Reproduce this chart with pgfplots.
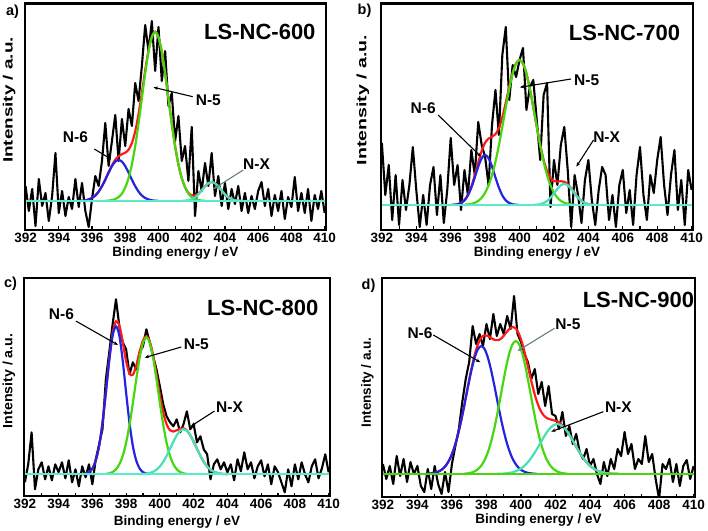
\documentclass[border=0pt]{standalone}
\usepackage{graphicx}
\usepackage{pgfplots}
\pgfplotsset{compat=1.18}
\usepackage{fontspec}
\setmainfont{Liberation Sans}
\usetikzlibrary{arrows.meta}
\definecolor{fitred}{RGB}{255,25,25}
\definecolor{fitblue}{RGB}{35,35,225}
\definecolor{fitgreen}{RGB}{70,215,15}
\definecolor{fitcyan}{RGB}{70,225,185}
\definecolor{basecyan}{RGB}{90,235,205}
\tikzset{
  ann/.style={font=\fontsize{15.5}{17}\selectfont\bfseries},
  ttl/.style={font=\fontsize{22}{24}\selectfont\bfseries},
  arr/.style={line width=1.1pt, -{Stealth[length=4.5pt,width=3.5pt]}},
  frame/.style={line width=2.3pt, line join=miter},
}
\pgfplotsset{
  panel/.style={
    scale only axis, anchor=south west,
    xmin=391.95, xmax=410.08,
    xtick={392,394,...,410}, minor xtick={393,395,...,409},
    ytick=\empty, xtick pos=left, tick align=inside,
    major tick length=3.5pt, minor tick length=3.5pt,
    every tick/.style={black, line width=1.1pt},
    /pgf/number format/assume math mode=true,
    /pgf/number format/1000 sep={},
    ticklabel style={font=\fontsize{13.5}{15}\selectfont\bfseries},
    xlabel={Binding energy / eV},
    label style={font=\fontsize{13.5}{15}\selectfont\bfseries},
    xlabel style={at={(axis description cs:0.5,0)}, anchor=center},
    ylabel style={anchor=center},
    clip=true,
  },
  dat/.style={black, line width=2.1pt, line join=round},
  fR/.style={fitred, line width=2.2pt, smooth},
  fB/.style={fitblue, line width=2.2pt, smooth},
  fG/.style={fitgreen, line width=2.2pt, smooth},
  fC/.style={fitcyan, line width=2.2pt, smooth},
  bl/.style={basecyan, line width=2.2pt},
}
\begin{document}
\begin{tikzpicture}
\useasboundingbox (0,0) rectangle (708pt,530pt);
% ---------------- a ----------------
\begin{axis}[panel, name=A, at={(24.7pt,300pt)}, width=301.3pt, height=226.5pt,
  ymin=-29, ymax=197.5,
  ylabel={\scalebox{1.4}[1]{Intensity / a.u.}},
  ylabel style={at={(axis description cs:-0.052,0.574)}},
  xlabel style={yshift=-23pt}]
\addplot[dat] coordinates {
(392.0,15)(392.2,-10)(392.4,12)(392.6,-25)(392.8,22)(393.0,-5)(393.2,8)(393.4,-20)(393.6,5)(393.8,48)
(394.0,-12)(394.2,10)(394.4,-15)(394.6,4)(394.8,-8)(395.0,22)(395.2,-6)(395.4,18)(395.6,-10)(395.8,-26)
(396.0,2)(396.2,25)(396.4,15)(396.6,40)(396.8,78)(397.0,35)(397.2,60)(397.4,86)(397.6,40)(397.8,82)
(398.0,55)(398.2,92)(398.4,75)(398.6,118)(398.8,100)(399.0,135)(399.2,176)(399.4,150)(399.6,180)(399.8,130)
(400.0,174)(400.2,120)(400.4,150)(400.6,95)(400.8,108)(401.0,60)(401.2,85)(401.4,40)(401.6,55)(401.8,20)
(402.0,74)(402.2,-15)(402.4,30)(402.6,10)(402.8,38)(403.0,15)(403.2,48)(403.4,5)(403.6,25)(403.8,-5)
(404.0,18)(404.2,-8)(404.4,12)(404.6,-3)(404.8,15)(405.0,-10)(405.2,8)(405.4,-12)(405.6,5)(405.8,-8)
(406.0,10)(406.2,19)(406.4,-5)(406.6,12)(406.8,-15)(407.0,6)(407.2,-10)(407.4,10)(407.6,-18)(407.8,4)
(408.0,-6)(408.2,24)(408.4,-10)(408.6,8)(408.8,-12)(409.0,12)(409.2,-20)(409.4,6)(409.6,-8)(409.8,10)(410.0,-12)};
\addplot[fR] coordinates {
(395.2,0.1)(395.4,0.3)(395.6,0.7)(395.8,1.5)(396.0,3.0)(396.2,5.5)(396.4,9.4)(396.6,14.9)(396.8,21.5)(397.0,28.8)
(397.2,35.7)(397.4,41.3)(397.6,44.9)(397.8,46.8)(398.0,48.3)(398.2,51.3)(398.4,57.9)(398.6,69.7)(398.8,86.8)(399.0,108.0)
(399.2,130.6)(399.4,150.6)(399.6,164.5)(399.8,169.3)(400.0,163.9)(400.2,149.1)(400.4,127.6)(400.6,102.5)(400.8,77.4)(401.0,54.9)
(401.2,36.6)(401.4,23.0)(401.6,13.8)(401.8,8.1)(402.0,5.7)(402.2,5.5)(402.4,7.5)(402.6,10.9)(402.8,14.8)(403.0,17.9)
(403.2,19.0)(403.4,17.8)(403.6,14.6)(403.8,10.5)(404.0,6.6)(404.2,3.6)(404.4,1.8)(404.6,0.7)(404.8,0.3)(405.0,0.1)};
\addplot[fB] coordinates {
(395.2,0.1)(395.4,0.3)(395.6,0.7)(395.8,1.5)(396.0,3.0)(396.2,5.5)(396.4,9.4)(396.6,14.8)(396.8,21.3)(397.0,28.4)
(397.2,34.8)(397.4,39.4)(397.6,41)(397.8,39.4)(398.0,34.8)(398.2,28.4)(398.4,21.3)(398.6,14.8)(398.8,9.4)(399.0,5.5)
(399.2,3.0)(399.4,1.5)(399.6,0.7)(399.8,0.3)(400.0,0.1)};
\addplot[fG] coordinates {
(396.8,0.2)(397.0,0.4)(397.2,0.9)(397.4,1.9)(397.6,3.9)(397.8,7.4)(398.0,13.5)(398.2,22.9)(398.4,36.6)(398.6,54.9)
(398.8,77.4)(399.0,102.5)(399.2,127.6)(399.4,149.1)(399.6,163.8)(399.8,169)(400.0,163.8)(400.2,149.1)(400.4,127.6)(400.6,102.5)
(400.8,77.4)(401.0,54.9)(401.2,36.6)(401.4,22.9)(401.6,13.5)(401.8,7.4)(402.0,3.9)(402.2,1.9)(402.4,0.9)(402.6,0.4)(402.8,0.2)};
\addplot[fC] coordinates {
(401.4,0.1)(401.6,0.3)(401.8,0.7)(402.0,1.8)(402.2,3.6)(402.4,6.6)(402.6,10.5)(402.8,14.6)(403.0,17.8)(403.2,19)
(403.4,17.8)(403.6,14.6)(403.8,10.5)(404.0,6.6)(404.2,3.6)(404.4,1.8)(404.6,0.7)(404.8,0.3)(405.0,0.1)};
\addplot[bl] coordinates {(391.95,0)(410.08,0)};
\node[ttl] at (axis cs:406.1,169) {LS-NC-600};
\node[ann] at (axis cs:395.0,64.3) {N-6};
\draw[arr] (axis cs:396.14,52) -- (axis cs:397.16,41.7);
\node[ann] at (axis cs:403.0,100.3) {N-5};
\draw[arr] (axis cs:402.06,104.3) -- (axis cs:399.7,113.7);
\node[ann] at (axis cs:405.9,37) {N-X};
\draw[arr, gray!80!teal] (axis cs:405.1,31) -- (axis cs:403.3,12);
\end{axis}
\draw[frame] (A.south west) rectangle (A.north east);
% ---------------- b ----------------
\begin{axis}[panel, name=B, at={(381pt,300pt)}, width=312pt, height=226.5pt,
  ymin=-25, ymax=201.5,
  ylabel={\scalebox{1.45}[1]{Intensity / a.u.}},
  ylabel style={at={(axis description cs:-0.058,0.574)}},
  xlabel style={yshift=-23pt}]
\addplot[dat] coordinates {
(392.0,62)(392.2,10)(392.4,40)(392.6,-15)(392.8,30)(393.0,-20)(393.2,25)(393.4,-5)(393.6,20)(393.8,58)
(394.0,15)(394.2,-22)(394.4,10)(394.6,-20)(394.8,20)(395.0,38)(395.2,-10)(395.4,30)(395.6,-18)(395.8,15)
(396.0,67)(396.2,20)(396.4,40)(396.6,-5)(396.8,35)(397.0,10)(397.2,55)(397.4,30)(397.6,83)(397.8,60)
(398.0,48)(398.2,20)(398.4,80)(398.6,115)(398.8,70)(399.0,150)(399.2,178)(399.4,105)(399.6,140)(399.8,128)
(400.0,145)(400.2,157)(400.4,95)(400.6,118)(400.8,125)(401.0,85)(401.2,45)(401.4,110)(401.6,122)(401.8,-2)
(402.0,45)(402.2,20)(402.4,60)(402.6,78)(402.8,35)(403.0,-22)(403.2,30)(403.4,10)(403.6,-18)(403.8,25)
(404.0,45)(404.2,5)(404.4,-20)(404.6,15)(404.8,38)(405.0,30)(405.2,-15)(405.4,10)(405.6,-22)(405.8,20)
(406.0,35)(406.2,-8)(406.4,15)(406.6,-20)(406.8,30)(407.0,58)(407.2,10)(407.4,-15)(407.6,30)(407.8,12)
(408.0,45)(408.2,68)(408.4,20)(408.6,-10)(408.8,30)(409.0,55)(409.2,-5)(409.4,25)(409.6,-20)(409.8,35)(410.0,15)};
\addplot[fR] coordinates {
(396.0,0.1)(396.2,0.2)(396.4,0.7)(396.6,2.1)(396.8,4.9)(397.0,10.2)(397.2,18.5)(397.4,29.8)(397.6,42.5)(397.8,54.1)
(398.0,62.3)(398.2,66.4)(398.4,68.3)(398.6,70.8)(398.8,77.0)(399.0,87.8)(399.2,102.3)(399.4,118.1)(399.6,132.1)(399.8,141.7)
(400.0,145.1)(400.2,141.5)(400.4,131.4)(400.6,116.1)(400.8,97.8)(401.0,78.5)(401.2,60.4)(401.4,45.1)(401.6,33.9)(401.8,26.9)
(402.0,23.9)(402.2,23.4)(402.4,23.8)(402.6,23.2)(402.8,20.8)(403.0,16.7)(403.2,11.9)(403.4,7.4)(403.6,4.0)(403.8,1.9)
(404.0,0.8)(404.2,0.3)(404.4,0.1)};
\addplot[fB] coordinates {
(396.0,0.1)(396.2,0.2)(396.4,0.7)(396.6,2.0)(396.8,4.6)(397.0,9.6)(397.2,17.4)(397.4,27.6)(397.6,38.4)(397.8,46.8)
(398.0,50)(398.2,46.8)(398.4,38.4)(398.6,27.6)(398.8,17.4)(399.0,9.6)(399.2,4.6)(399.4,2.0)(399.6,0.7)(399.8,0.2)(400.0,0.1)};
\addplot[fG] coordinates {
(396.8,0.3)(397.0,0.6)(397.2,1.1)(397.4,2.2)(397.6,4.1)(397.8,7.3)(398.0,12.3)(398.2,19.6)(398.4,29.9)(398.6,43.2)
(398.8,59.6)(399.0,78.2)(399.2,97.7)(399.4,116.1)(399.6,131.4)(399.8,141.5)(400.0,145)(400.2,141.5)(400.4,131.4)(400.6,116.1)
(400.8,97.7)(401.0,78.2)(401.2,59.6)(401.4,43.2)(401.6,29.9)(401.8,19.6)(402.0,12.3)(402.2,7.3)(402.4,4.1)(402.6,2.2)
(402.8,1.1)(403.0,0.6)(403.2,0.3)};
\addplot[fC] coordinates {
(400.8,0.1)(401.0,0.3)(401.2,0.8)(401.4,1.9)(401.6,4.0)(401.8,7.3)(402.0,11.6)(402.2,16.1)(402.4,19.7)(402.6,21)
(402.8,19.7)(403.0,16.1)(403.2,11.6)(403.4,7.3)(403.6,4.0)(403.8,1.9)(404.0,0.8)(404.2,0.3)(404.4,0.1)};
\addplot[bl] coordinates {(391.95,0)(410.08,0)};
\node[ttl] at (axis cs:406.1,171.7) {LS-NC-700};
\node[ann] at (axis cs:394.4,96.7) {N-6};
\draw[arr] (axis cs:395.27,90) -- (axis cs:397.76,48.3);
\node[ann] at (axis cs:403.9,125) {N-5};
\draw[arr] (axis cs:402.99,126) -- (axis cs:400.02,117.7);
\node[ann] at (axis cs:405.06,68.3) {N-X};
\draw[arr] (axis cs:404.3,65) -- (axis cs:403.3,38.3);
\end{axis}
\draw[frame] (B.south west) rectangle (B.north east);
% ---------------- c ----------------
\begin{axis}[panel, name=C, at={(24pt,34pt)}, width=306pt, height=218pt,
  ymin=-21.7, ymax=196.3,
  ylabel={\scalebox{1.05}[1]{Intensity / a.u.}},
  ylabel style={at={(axis description cs:-0.049,0.528)}},
  xlabel style={yshift=-26pt}]
\addplot[dat] coordinates {
(392.0,-8)(392.2,10)(392.4,42)(392.6,-15)(392.8,5)(393.0,12)(393.2,-5)(393.4,8)(393.6,-6)(393.8,10)
(394.0,2)(394.2,12)(394.4,-4)(394.6,14)(394.8,-8)(395.0,5)(395.2,-12)(395.4,8)(395.6,-3)(395.8,10)
(396.0,-10)(396.2,15)(396.4,30)(396.6,45)(396.8,95)(397.0,122)(397.2,150)(397.4,175)(397.6,148)(397.8,132)
(398.0,125)(398.2,100)(398.4,112)(398.6,105)(398.8,122)(399.0,128)(399.2,145)(399.4,132)(399.6,118)(399.8,105)
(400.0,88)(400.2,70)(400.4,58)(400.6,52)(400.8,48)(401.0,55)(401.2,42)(401.4,50)(401.6,63)(401.8,45)
(402.0,50)(402.2,32)(402.4,38)(402.6,25)(402.8,20)(403.0,-5)(403.2,10)(403.4,15)(403.6,5)(403.8,12)
(404.0,2)(404.2,10)(404.4,-6)(404.6,15)(404.8,3)(405.0,22)(405.2,5)(405.4,12)(405.6,-4)(405.8,8)
(406.0,14)(406.2,-2)(406.4,10)(406.6,-10)(406.8,8)(407.0,2)(407.2,-8)(407.4,-18)(407.6,5)(407.8,-12)
(408.0,10)(408.2,-5)(408.4,12)(408.6,0)(408.8,-8)(409.0,8)(409.2,15)(409.4,-4)(409.6,6)(409.8,20)(410.0,2)};
\addplot[fR] coordinates {
(395.4,0.2)(395.6,0.7)(395.8,2.1)(396.0,5.8)(396.2,13.7)(396.4,28.3)(396.6,51.5)(396.8,82.0)(397.0,114.6)(397.2,140.8)
(397.4,153.0)(397.6,148.6)(397.8,132.1)(398.0,113.1)(398.2,100.8)(398.4,99.6)(398.6,108.6)(398.8,122.3)(399.0,133.9)(399.2,138.3)
(399.4,133.0)(399.6,118.9)(399.8,99.5)(400.0,79.2)(400.2,61.9)(400.4,50.0)(400.6,44.0)(400.8,42.8)(401.0,44.0)(401.2,45.7)
(401.4,46.0)(401.6,43.8)(401.8,39.1)(402.0,32.7)(402.2,25.5)(402.4,18.5)(402.6,12.5)(402.8,7.9)(403.0,4.6)(403.2,2.5)
(403.4,1.3)(403.6,0.6)(403.8,0.3)(404.0,0.1)};
\addplot[fB] coordinates {
(395.4,0.2)(395.6,0.7)(395.8,2.1)(396.0,5.8)(396.2,13.7)(396.4,28.3)(396.6,51.4)(396.8,81.6)(397.0,113.6)(397.2,138.5)
(397.4,148)(397.6,138.5)(397.8,113.6)(398.0,81.6)(398.2,51.4)(398.4,28.3)(398.6,13.7)(398.8,5.8)(399.0,2.1)(399.2,0.7)(399.4,0.2)};
\addplot[fG] coordinates {
(396.8,0.4)(397.0,1.0)(397.2,2.3)(397.4,5.0)(397.6,10.1)(397.8,18.5)(398.0,31.5)(398.2,49.4)(398.4,71.3)(398.6,94.9)
(398.8,116.4)(399.0,131.5)(399.2,137)(399.4,131.5)(399.6,116.4)(399.8,94.9)(400.0,71.3)(400.2,49.4)(400.4,31.5)(400.6,18.5)
(400.8,10.1)(401.0,5.0)(401.2,2.3)(401.4,1.0)(401.6,0.4)};
\addplot[fC] coordinates {
(398.8,0.1)(399.0,0.3)(399.2,0.6)(399.4,1.3)(399.6,2.5)(399.8,4.6)(400.0,7.9)(400.2,12.5)(400.4,18.5)(400.6,25.5)
(400.8,32.7)(401.0,39.0)(401.2,43.4)(401.4,45)(401.6,43.4)(401.8,39.0)(402.0,32.7)(402.2,25.5)(402.4,18.5)(402.6,12.5)
(402.8,7.9)(403.0,4.6)(403.2,2.5)(403.4,1.3)(403.6,0.6)(403.8,0.3)(404.0,0.1)};
\addplot[bl] coordinates {(391.95,0)(410.08,0)};
\node[ttl] at (axis cs:406.1,166) {LS-NC-800};
\node[ann] at (axis cs:394.17,160) {N-6};
\draw[arr] (axis cs:395.02,153.3) -- (axis cs:397.52,129.3);
\node[ann] at (axis cs:402.16,130) {N-5};
\draw[arr] (axis cs:401.27,127.3) -- (axis cs:399.1,116.7);
\node[ann] at (axis cs:404.13,67.3) {N-X};
\draw[arr] (axis cs:403.24,63.3) -- (axis cs:401.86,48.3);
\end{axis}
\draw[frame] (C.south west) rectangle (C.north east);
% ---------------- d ----------------
\begin{axis}[panel, name=D, at={(382pt,33pt)}, width=313pt, height=219pt,
  ymin=-23, ymax=196,
  ylabel={\scalebox{1.0}[1]{Intensity / a.u.}},
  ylabel style={at={(axis description cs:-0.047,0.523)}},
  xlabel style={yshift=-23pt}]
\addplot[dat] coordinates {
(392.0,10)(392.2,-5)(392.4,8)(392.6,-10)(392.8,18)(393.0,-2)(393.2,15)(393.4,-8)(393.6,12)(393.8,0)
(394.0,8)(394.2,-12)(394.4,-18)(394.6,5)(394.8,-15)(395.0,8)(395.2,-10)(395.4,-20)(395.6,2)(395.8,-18)
(396.0,10)(396.2,28)(396.4,45)(396.6,72)(396.8,95)(397.0,112)(397.2,148)(397.4,130)(397.6,140)(397.8,128)
(398.0,150)(398.2,135)(398.4,160)(398.6,138)(398.8,150)(399.0,140)(399.2,158)(399.4,145)(399.6,178)(399.8,140)
(400.0,132)(400.2,120)(400.4,112)(400.6,95)(400.8,105)(401.0,80)(401.2,92)(401.4,68)(401.6,88)(401.8,60)
(402.0,58)(402.2,45)(402.4,62)(402.6,38)(402.8,48)(403.0,30)(403.2,40)(403.4,22)(403.6,15)(403.8,25)
(404.0,8)(404.2,15)(404.4,0)(404.6,-10)(404.8,12)(405.0,-2)(405.2,15)(405.4,5)(405.6,25)(405.8,18)
(406.0,42)(406.2,20)(406.4,30)(406.6,5)(406.8,15)(407.0,10)(407.2,38)(407.4,12)(407.6,20)(407.8,-5)
(408.0,-25)(408.2,10)(408.4,5)(408.6,15)(408.8,-8)(409.0,10)(409.2,-12)(409.4,8)(409.6,14)(409.8,-5)(410.0,8)};
\addplot[fR] coordinates {
(394.5,0.2)(394.7,0.4)(394.9,0.8)(395.1,1.6)(395.3,3.1)(395.5,5.6)(395.7,9.7)(395.9,15.8)(396.1,24.5)(396.3,36.1)
(396.5,50.6)(396.7,67.4)(396.9,85.3)(397.1,102.7)(397.3,117.9)(397.5,129.4)(397.7,136.4)(397.9,138.8)(398.1,138.0)(398.3,135.8)
(398.5,133.9)(398.7,133.9)(398.9,136.2)(399.1,140.4)(399.3,144.6)(399.5,146.9)(399.7,145.5)(399.9,139.4)(400.1,129.0)(400.3,115.2)
(400.5,100.1)(400.7,85.8)(400.9,73.6)(401.1,64.6)(401.3,58.9)(401.5,55.9)(401.7,54.6)(401.9,53.7)(402.1,52.5)(402.3,50.2)
(402.5,46.8)(402.7,42.1)(402.9,36.4)(403.1,30.3)(403.3,24.3)(403.5,18.8)(403.7,13.9)(403.9,9.9)(404.1,6.8)(404.3,4.4)
(404.5,2.8)(404.7,1.7)(404.9,1.0)(405.1,0.6)(405.3,0.3)(405.5,0.2)(405.7,0.1)};
\addplot[fB] coordinates {
(394.5,0.2)(394.7,0.4)(394.9,0.8)(395.1,1.6)(395.3,3.1)(395.5,5.6)(395.7,9.7)(395.9,15.8)(396.1,24.5)(396.3,36.1)
(396.5,50.5)(396.7,67.1)(396.9,84.7)(397.1,101.5)(397.3,115.4)(397.5,124.7)(397.7,128)(397.9,124.7)(398.1,115.4)(398.3,101.5)
(398.5,84.7)(398.7,67.1)(398.9,50.5)(399.1,36.1)(399.3,24.5)(399.5,15.8)(399.7,9.7)(399.9,5.6)(400.1,3.1)(400.3,1.6)
(400.5,0.8)(400.7,0.4)(400.9,0.2)};
\addplot[fG] coordinates {
(396.7,0.3)(396.9,0.6)(397.1,1.2)(397.3,2.5)(397.5,4.7)(397.7,8.4)(397.9,14.1)(398.1,22.6)(398.3,34.3)(398.5,49.1)
(398.7,66.6)(398.9,85.4)(399.1,103.7)(399.3,119.1)(399.5,129.4)(399.7,133)(399.9,129.4)(400.1,119.1)(400.3,103.7)(400.5,85.4)
(400.7,66.6)(400.9,49.1)(401.1,34.3)(401.3,22.6)(401.5,14.1)(401.7,8.4)(401.9,4.7)(402.1,2.5)(402.3,1.2)(402.5,0.6)(402.7,0.3)};
\addplot[fC] coordinates {
(398.5,0.1)(398.7,0.2)(398.9,0.3)(399.1,0.6)(399.3,1.0)(399.5,1.7)(399.7,2.8)(399.9,4.4)(400.1,6.8)(400.3,9.9)
(400.5,13.9)(400.7,18.8)(400.9,24.3)(401.1,30.3)(401.3,36.3)(401.5,41.8)(401.7,46.2)(401.9,49.0)(402.1,50)(402.3,49.0)
(402.5,46.2)(402.7,41.8)(402.9,36.3)(403.1,30.3)(403.3,24.3)(403.5,18.8)(403.7,13.9)(403.9,9.9)(404.1,6.8)(404.3,4.4)
(404.5,2.8)(404.7,1.7)(404.9,1.0)(405.1,0.6)(405.3,0.3)(405.5,0.2)(405.7,0.1)};
\addplot[fitgreen, line width=2.2pt] coordinates {(391.95,0)(410.08,0)};
\node[ttl] at (axis cs:406.8,174) {LS-NC-900};
\node[ann] at (axis cs:394.15,140.7) {N-6};
\draw[arr] (axis cs:394.92,139) -- (axis cs:397.65,111.7);
\node[ann] at (axis cs:402.72,149.7) {N-5};
\draw[arr, gray!80!teal] (axis cs:401.94,145.7) -- (axis cs:399.8,123);
\node[ann] at (axis cs:405.64,67.3) {N-X};
\draw[arr] (axis cs:404.77,62.3) -- (axis cs:401.75,42.3);
\end{axis}
\draw[frame] (D.south west) rectangle (D.north east);
% panel letters
\node[font=\fontsize{14.5}{16}\selectfont\bfseries] at (12.5pt,518.5pt) {a)};
\node[font=\fontsize{14.5}{16}\selectfont\bfseries] at (364.5pt,519pt) {b)};
\node[font=\fontsize{14.5}{16}\selectfont\bfseries] at (10.5pt,246pt) {c)};
\node[font=\fontsize{14.5}{16}\selectfont\bfseries] at (368.5pt,244pt) {d)};
\end{tikzpicture}
\end{document}
